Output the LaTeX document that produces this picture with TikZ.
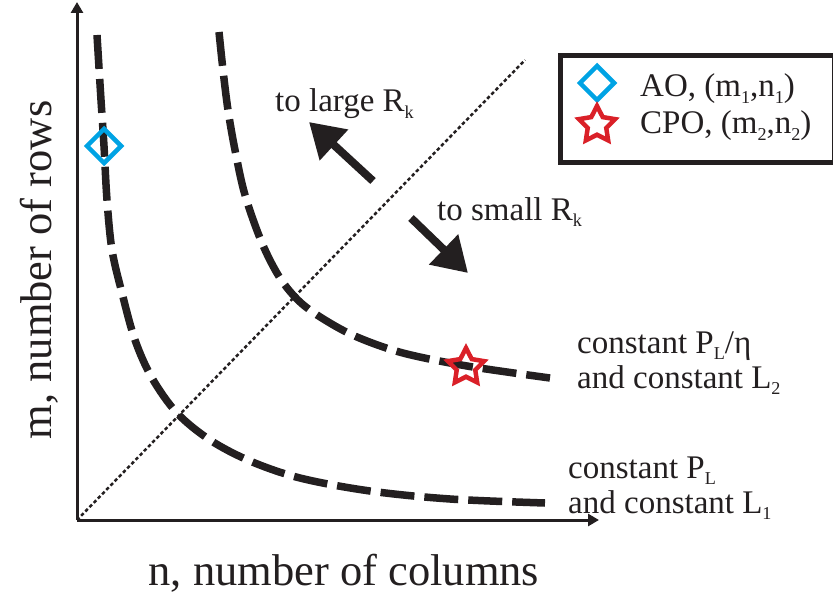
\documentclass[tikz,border=0pt]{standalone}
\usepackage{fontspec}
\setmainfont{Liberation Serif}
\usetikzlibrary{arrows.meta,shapes.geometric}
\definecolor{ink}{RGB}{35,31,32}
\definecolor{aoblue}{RGB}{0,163,228}
\definecolor{cpored}{RGB}{218,32,40}
\newcommand\lowsub[1]{\raisebox{-0.2em}{\scalebox{0.55}{#1}}}
\tikzset{
  lbl/.style={anchor=base west, inner sep=0pt, font=\fontsize{33}{39}\selectfont, text=ink},
  axlbl/.style={inner sep=0pt, font=\fontsize{44.5}{50}\selectfont, text=ink},
  axis/.style={line width=3pt, draw=ink, -{Triangle[length=11pt,width=12pt]}},
  curve/.style={line width=7.5pt, draw=ink, dash pattern=on 34pt off 10pt},
  diag/.style={line width=2.5pt, draw=ink, dash pattern=on 3.5pt off 2.5pt},
  bigarrow/.style={line width=8pt, draw=ink, -{Triangle[length=34pt,width=40pt]}},
  aomark/.style={diamond, aspect=1, draw=aoblue, line width=4.5pt, minimum size=36pt, inner sep=0pt},
  cpomark/.style={star, star points=5, star point ratio=1.95, draw=cpored, line width=4.5pt, minimum size=38pt, inner sep=0pt},
}
\begin{document}
\begin{tikzpicture}[x=1pt,y=-1pt]
\useasboundingbox (0,0) rectangle (833,599);
% axes
\coordinate (O) at (77,520);
\coordinate (ytop) at (77,2);
\coordinate (xend) at (599,520);
\draw[axis] (O) -- (ytop);
\draw[axis] (O) -- (xend);
% diagonal
\coordinate (dend) at (525,60);
\draw[diag] (O) -- (dend);
% curves
\draw[curve] plot[smooth, tension=0.55] coordinates {(97,35) (101,100) (104,146) (107,200) (112,250) (122,293) (135,340) (152,378) (177,413) (210,440) (250,461) (300,478) (370,491) (450,499) (545,503)};
\draw[curve] plot[smooth, tension=0.55] coordinates {(219,32) (223,70) (228,110) (235,150) (245,195) (262,243) (280,278) (300,302) (325,320) (357,337) (403,353) (467,366) (550,378)};
% markers
\node[aomark] (ao) at (104,146) {};
\node[cpomark] (cpo) at (466,367) {};
% big arrows
\coordinate (la) at (373,181);
\coordinate (lb) at (309,122);
\draw[bigarrow] (la) -- (lb);
\coordinate (sa) at (411,218);
\coordinate (sb) at (468,273);
\draw[bigarrow] (sa) -- (sb);
% labels
\node[lbl] (large) at (275,112) {to large R\lowsub{k}};
\node[lbl] (small) at (437,220) {to small R\lowsub{k}};
\node[lbl] (c2a) at (577,353) {constant P\lowsub{L}/η};
\node[lbl] (c2b) at (577,388) {and constant L\lowsub{2}};
\node[lbl] (c1a) at (568,478) {constant P\lowsub{L}};
\node[lbl] (c1b) at (568,513) {and constant L\lowsub{1}};
% axis labels
\node[axlbl, anchor=base] (xl) at (344,585) {n, number of columns};
\node[axlbl, anchor=base, rotate=90] (yl) at (51,270) {m, number of rows};
% legend
\node[draw=ink, line width=5pt, minimum width=274pt, minimum height=107pt, inner sep=0pt, anchor=north west] (leg) at (558,53) {};
\node[aomark] (lao) at (597,83) {};
\node[cpomark] (lcpo) at (597,125) {};
\node[lbl] (laot) at (640,97) {AO, (m\lowsub{1},n\lowsub{1})};
\node[lbl] (lcpot) at (640,134) {CPO, (m\lowsub{2},n\lowsub{2})};
\end{tikzpicture}
\end{document}
